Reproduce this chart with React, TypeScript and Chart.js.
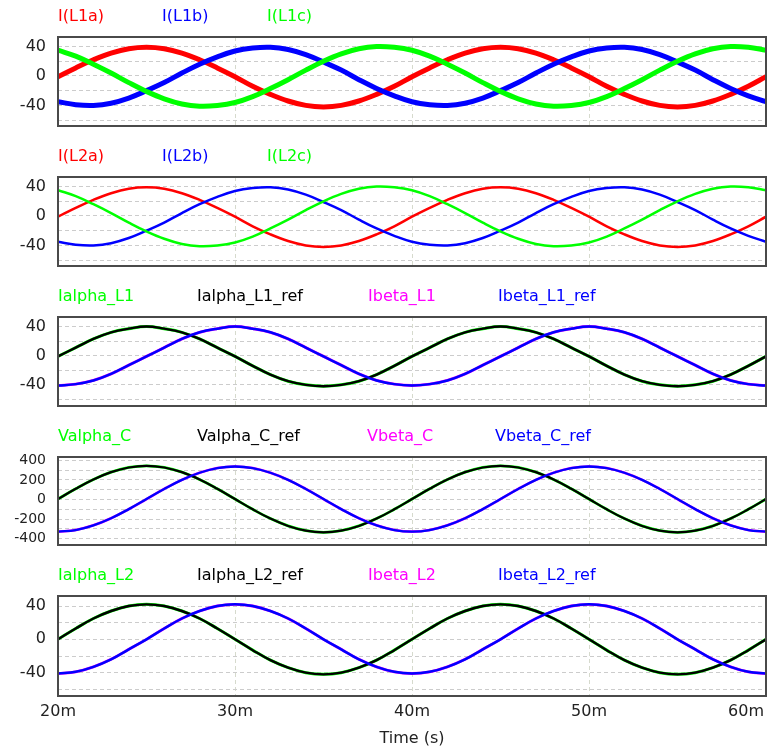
import React, { useEffect, useRef } from 'react';
import { Chart, registerables } from 'chart.js';

Chart.register(...registerables);
Chart.defaults.font.family = '"DejaVu Sans", sans-serif';

// ---- time samples (ms) ----
const timeMs = [20, 21, 22, 23, 24, 25, 26, 27, 28, 29, 30, 31, 32, 33, 34, 35, 36, 37, 38, 39, 40,
  41, 42, 43, 44, 45, 46, 47, 48, 49, 50, 51, 52, 53, 54, 55, 56, 57, 58, 59, 60];
const xTicks = [20, 30, 40, 50, 60];

// ---- panel 1 : I(L1a), I(L1b), I(L1c) ----
const iL1a = [-1, 11, 22, 31, 37, 39, 37, 31, 22, 11, -1, -14, -25, -34, -40, -42, -40, -34, -25, -14,
  -1, 11, 22, 31, 37, 39, 37, 31, 22, 11, -1, -14, -25, -34, -40, -42, -40, -34, -25, -14, -1];
const iL1b = [-35, -39, -40, -37, -30, -20, -9, 4, 16, 26, 34, 38, 39, 36, 29, 19, 8, -5, -17, -27,
  -35, -39, -40, -37, -30, -20, -9, 4, 16, 26, 34, 38, 39, 36, 29, 19, 8, -5, -17, -27, -35];
const iL1c = [35, 27, 16, 4, -9, -21, -31, -38, -41, -40, -36, -28, -17, -5, 8, 20, 30, 37, 40, 39,
  35, 27, 16, 4, -9, -21, -31, -38, -41, -40, -36, -28, -17, -5, 8, 20, 30, 37, 40, 39, 35];

// ---- panel 2 : I(L2a), I(L2b), I(L2c) ----
const iL2a = [-1, 11, 22, 31, 37, 39, 37, 31, 22, 11, -1, -14, -25, -34, -40, -42, -40, -34, -25, -14,
  -1, 11, 22, 31, 37, 39, 37, 31, 22, 11, -1, -14, -25, -34, -40, -42, -40, -34, -25, -14, -1];
const iL2b = [-35, -39, -40, -37, -30, -20, -9, 4, 16, 26, 34, 38, 39, 36, 29, 19, 8, -5, -17, -27,
  -35, -39, -40, -37, -30, -20, -9, 4, 16, 26, 34, 38, 39, 36, 29, 19, 8, -5, -17, -27, -35];
const iL2c = [35, 27, 16, 4, -9, -21, -31, -38, -41, -40, -36, -28, -17, -5, 8, 20, 30, 37, 40, 39,
  35, 27, 16, 4, -9, -21, -31, -38, -41, -40, -36, -28, -17, -5, 8, 20, 30, 37, 40, 39, 35];

// ---- panel 3 : Ialpha_L1, Ibeta_L1 (+ refs) ----
const iAlphaL1 = [-1, 11, 23, 32, 37, 40, 37, 32, 23, 11, -1, -14, -26, -35, -40, -42, -40, -35, -26, -14,
  -1, 11, 23, 32, 37, 40, 37, 32, 23, 11, -1, -14, -26, -35, -40, -42, -40, -35, -26, -14, -1];
const iAlphaL1Ref = [-1, 11, 23, 32, 37, 40, 37, 32, 23, 11, -1, -14, -26, -35, -40, -42, -40, -35, -26, -14,
  -1, 11, 23, 32, 37, 40, 37, 32, 23, 11, -1, -14, -26, -35, -40, -42, -40, -35, -26, -14, -1];
const iBetaL1 = [-41, -39, -34, -25, -13, -1, 11, 23, 32, 37, 40, 37, 32, 23, 11, -1, -13, -25, -34, -39,
  -41, -39, -34, -25, -13, -1, 11, 23, 32, 37, 40, 37, 32, 23, 11, -1, -13, -25, -34, -39, -41];
const iBetaL1Ref = [-41, -39, -34, -25, -13, -1, 11, 23, 32, 37, 40, 37, 32, 23, 11, -1, -13, -25, -34, -39,
  -41, -39, -34, -25, -13, -1, 11, 23, 32, 37, 40, 37, 32, 23, 11, -1, -13, -25, -34, -39, -41];

// ---- panel 4 : Valpha_C, Vbeta_C (+ refs) ----
const vAlphaC = [5, 110, 205, 280, 328, 345, 328, 280, 205, 110, 5, -100, -195, -270, -318, -335, -318, -270, -195, -100,
  5, 110, 205, 280, 328, 345, 328, 280, 205, 110, 5, -100, -195, -270, -318, -335, -318, -270, -195, -100, 5];
const vAlphaCRef = [5, 110, 205, 280, 328, 345, 328, 280, 205, 110, 5, -100, -195, -270, -318, -335, -318, -270, -195, -100,
  5, 110, 205, 280, 328, 345, 328, 280, 205, 110, 5, -100, -195, -270, -318, -335, -318, -270, -195, -100, 5];
const vBetaC = [-328, -312, -264, -191, -98, 5, 108, 201, 274, 322, 338, 322, 274, 201, 108, 5, -98, -191, -264, -312,
  -328, -312, -264, -191, -98, 5, 108, 201, 274, 322, 338, 322, 274, 201, 108, 5, -98, -191, -264, -312, -328];
const vBetaCRef = [-328, -312, -264, -191, -98, 5, 108, 201, 274, 322, 338, 322, 274, 201, 108, 5, -98, -191, -264, -312,
  -328, -312, -264, -191, -98, 5, 108, 201, 274, 322, 338, 322, 274, 201, 108, 5, -98, -191, -264, -312, -328];

// ---- panel 5 : Ialpha_L2, Ibeta_L2 (+ refs) ----
const iAlphaL2 = [0, 13, 25, 34, 40, 42, 40, 34, 25, 13, 0, -13, -25, -34, -40, -42, -40, -34, -25, -13,
  0, 13, 25, 34, 40, 42, 40, 34, 25, 13, 0, -13, -25, -34, -40, -42, -40, -34, -25, -13, 0];
const iAlphaL2Ref = [0, 13, 25, 34, 40, 42, 40, 34, 25, 13, 0, -13, -25, -34, -40, -42, -40, -34, -25, -13,
  0, 13, 25, 34, 40, 42, 40, 34, 25, 13, 0, -13, -25, -34, -40, -42, -40, -34, -25, -13, 0];
const iBetaL2 = [-41, -39, -33, -24, -12, 0, 13, 25, 34, 40, 42, 40, 34, 25, 13, 0, -12, -24, -33, -39,
  -41, -39, -33, -24, -12, 0, 13, 25, 34, 40, 42, 40, 34, 25, 13, 0, -12, -24, -33, -39, -41];
const iBetaL2Ref = [-41, -39, -33, -24, -12, 0, 13, 25, 34, 40, 42, 40, 34, 25, 13, 0, -12, -24, -33, -39,
  -41, -39, -33, -24, -12, 0, 13, 25, 34, 40, 42, 40, 34, 25, 13, 0, -12, -24, -33, -39, -41];

// ---- axis ticks ----
const currentGrid = [-60, -40, -20, 0, 20, 40];
const voltageGrid = [-400, -300, -200, -100, 0, 100, 200, 300, 400];

const RED = '#ff0000', BLUE = '#0000ff', GREEN = '#00ff00', MAGENTA = '#ff00ff', BLACK = '#000000';

type Series = { label: string; color: string; data: number[]; width: number; order: number };
type PanelCfg = {
  top: number; bottom: number; yMin: number; yMax: number; grid: number[]; labelEvery: number;
  tickFont: number; legendX: number[]; series: Series[]; last?: boolean;
};

const panels: PanelCfg[] = [
  {
    top: 37, bottom: 126, yMin: -68, yMax: 53, grid: currentGrid, labelEvery: 40, tickFont: 16,
    legendX: [58, 162, 267],
    series: [
      { label: 'I(L1a)', color: RED, data: iL1a, width: 5, order: 2 },
      { label: 'I(L1b)', color: BLUE, data: iL1b, width: 5, order: 1 },
      { label: 'I(L1c)', color: GREEN, data: iL1c, width: 5, order: 0 },
    ],
  },
  {
    top: 177, bottom: 266, yMin: -68, yMax: 53, grid: currentGrid, labelEvery: 40, tickFont: 16,
    legendX: [58, 162, 267],
    series: [
      { label: 'I(L2a)', color: RED, data: iL2a, width: 2.5, order: 2 },
      { label: 'I(L2b)', color: BLUE, data: iL2b, width: 2.5, order: 1 },
      { label: 'I(L2c)', color: GREEN, data: iL2c, width: 2.5, order: 0 },
    ],
  },
  {
    top: 317, bottom: 406, yMin: -69, yMax: 53, grid: currentGrid, labelEvery: 40, tickFont: 16,
    legendX: [58, 197, 368, 498],
    series: [
      { label: 'Ialpha_L1', color: GREEN, data: iAlphaL1, width: 3.0, order: 3 },
      { label: 'Ialpha_L1_ref', color: BLACK, data: iAlphaL1Ref, width: 2.4, order: 1 },
      { label: 'Ibeta_L1', color: MAGENTA, data: iBetaL1, width: 2.9, order: 2 },
      { label: 'Ibeta_L1_ref', color: BLUE, data: iBetaL1Ref, width: 2.5, order: 0 },
    ],
  },
  {
    top: 457, bottom: 545, yMin: -465, yMax: 435, grid: voltageGrid, labelEvery: 200, tickFont: 14,
    legendX: [58, 197, 367, 495],
    series: [
      { label: 'Valpha_C', color: GREEN, data: vAlphaC, width: 2.8, order: 3 },
      { label: 'Valpha_C_ref', color: BLACK, data: vAlphaCRef, width: 2.2, order: 1 },
      { label: 'Vbeta_C', color: MAGENTA, data: vBetaC, width: 2.6, order: 2 },
      { label: 'Vbeta_C_ref', color: BLUE, data: vBetaCRef, width: 2.3, order: 0 },
    ],
  },
  {
    top: 596, bottom: 696, yMin: -68, yMax: 52, grid: currentGrid, labelEvery: 40, tickFont: 16,
    legendX: [58, 197, 368, 498], last: true,
    series: [
      { label: 'Ialpha_L2', color: GREEN, data: iAlphaL2, width: 3.0, order: 3 },
      { label: 'Ialpha_L2_ref', color: BLACK, data: iAlphaL2Ref, width: 2.4, order: 1 },
      { label: 'Ibeta_L2', color: MAGENTA, data: iBetaL2, width: 2.8, order: 2 },
      { label: 'Ibeta_L2_ref', color: BLUE, data: iBetaL2Ref, width: 2.5, order: 0 },
    ],
  },
];

const TOP_PAD = 37;
const PAGE_W = 767;
const PAGE_H = 752;
const LEFT_AXIS_W = 58;

function Panel({ cfg }: { cfg: PanelCfg }) {
  const ref = useRef<HTMLCanvasElement | null>(null);
  const canvasTop = cfg.top - TOP_PAD;
  const xAxisH = cfg.last ? PAGE_H - cfg.bottom : 30;
  const canvasH = TOP_PAD + (cfg.bottom - cfg.top) + xAxisH;

  useEffect(() => {
    if (!ref.current) return;
    const framePlugin = {
      id: 'frameAndLegend',
      afterDraw(chart: any) {
        const { ctx, chartArea } = chart;
        ctx.save();
        ctx.strokeStyle = '#4a4a4a';
        ctx.lineWidth = 2;
        ctx.strokeRect(chartArea.left, chartArea.top, chartArea.right - chartArea.left, chartArea.bottom - chartArea.top);
        // legend texts
        ctx.font = '16px "DejaVu Sans", sans-serif';
        ctx.textBaseline = 'middle';
        ctx.textAlign = 'left';
        cfg.series.forEach((s, i) => {
          ctx.fillStyle = s.color;
          ctx.fillText(s.label, cfg.legendX[i], chartArea.top - 20);
        });
        // x tick labels on the last panel
        if (cfg.last) {
          const xs = chart.scales.x;
          ctx.fillStyle = '#222';
          ctx.font = '16px "DejaVu Sans", sans-serif';
          xTicks.forEach((v) => {
            const txt = v + 'm';
            const w = ctx.measureText(txt).width;
            let px = xs.getPixelForValue(v);
            if (px + w / 2 > chart.width - 2) {
              ctx.textAlign = 'right';
              px = chart.width - 3;
            } else {
              ctx.textAlign = 'center';
            }
            ctx.fillText(txt, px, chartArea.bottom + 16);
          });
        }
        ctx.restore();
      },
    };

    const chart = new Chart(ref.current, {
      type: 'line',
      data: {
        datasets: cfg.series.map((s) => ({
          label: s.label,
          data: timeMs.map((t, i) => ({ x: t, y: s.data[i] })),
          borderColor: s.color,
          backgroundColor: s.color,
          borderWidth: s.width,
          pointRadius: 0,
          tension: 0.4,
          fill: false,
          order: s.order,
        })),
      },
      options: {
        responsive: false,
        animation: false,
        events: [],
        layout: { padding: { top: TOP_PAD, left: 0, right: 1, bottom: 0 } },
        plugins: { legend: { display: false }, tooltip: { enabled: false }, title: { display: false } },
        scales: {
          x: {
            type: 'linear',
            min: 20,
            max: 60,
            afterBuildTicks: (axis: any) => { axis.ticks = xTicks.map((v) => ({ value: v })); },
            afterFit: (axis: any) => { axis.height = xAxisH; },
            ticks: { display: false, autoSkip: false },
            grid: { color: '#d6dacd', lineWidth: 1, drawTicks: false },
            border: { display: false, dash: [4, 3] },
            title: {
              display: !!cfg.last,
              text: 'Time (s)',
              color: '#222',
              font: { size: 16 },
              padding: { top: 0, bottom: 4 },
            },
          },
          y: {
            type: 'linear',
            min: cfg.yMin,
            max: cfg.yMax,
            afterBuildTicks: (axis: any) => { axis.ticks = cfg.grid.map((v) => ({ value: v })); },
            afterFit: (axis: any) => { axis.width = LEFT_AXIS_W; },
            ticks: {
              autoSkip: false,
              padding: 12,
              color: '#222',
              font: { size: cfg.tickFont },
              callback: (v: any) => (Number(v) % cfg.labelEvery === 0 ? String(v) : ''),
            },
            grid: { color: '#cccccc', lineWidth: 1, drawTicks: false },
            border: { display: false, dash: [4, 3] },
          },
        },
      },
      plugins: [framePlugin],
    } as any);
    return () => chart.destroy();
  }, []);

  return (
    <canvas
      ref={ref}
      width={PAGE_W}
      height={canvasH}
      style={{ position: 'absolute', left: 0, top: canvasTop, width: PAGE_W, height: canvasH, display: 'block' }}
    />
  );
}

export default function App() {
  return (
    <div style={{ position: 'absolute', left: 0, top: 0, width: PAGE_W, height: PAGE_H, background: '#ffffff', overflow: 'hidden' }}>
      {panels.map((p, i) => (
        <Panel key={i} cfg={p} />
      ))}
    </div>
  );
}
